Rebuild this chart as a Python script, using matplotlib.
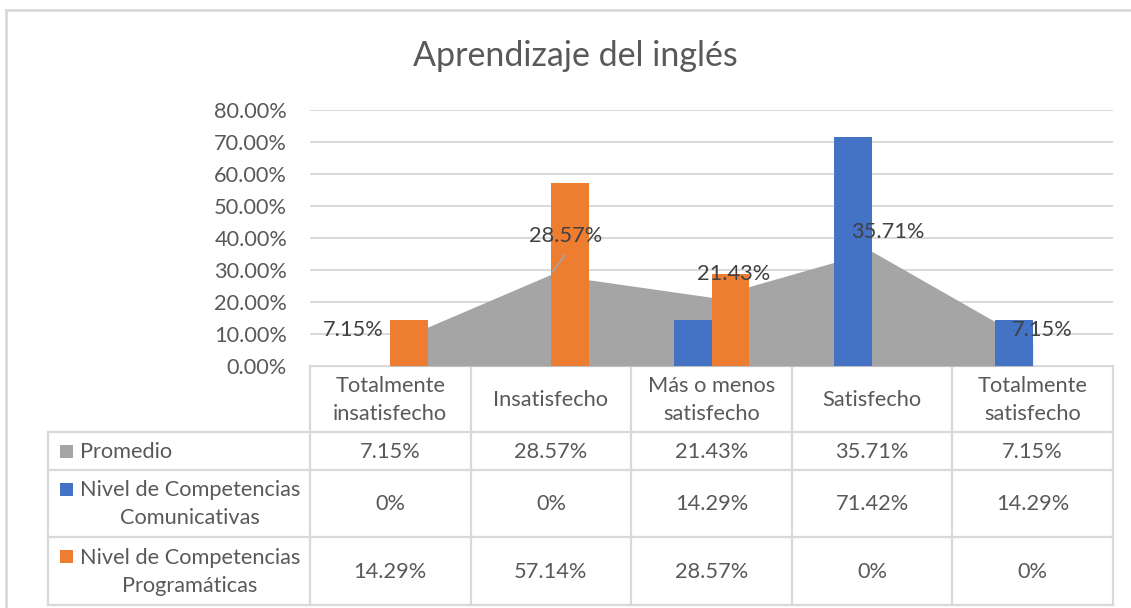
import matplotlib
matplotlib.use("Agg")
import matplotlib.pyplot as plt
import numpy as np

plt.rcParams['font.family'] = ['Lato', 'DejaVu Sans']

# data
categories = ["Totalmente\ninsatisfecho", "Insatisfecho", "Más o menos\nsatisfecho",
              "Satisfecho", "Totalmente\nsatisfecho"]
promedio = [7.15, 28.57, 21.43, 35.71, 7.15]
comunicativas = [0, 0, 14.29, 71.42, 14.29]
programaticas = [14.29, 57.14, 28.57, 0, 0]
series_names = ["Promedio", "Nivel de Competencias\nComunicativas",
                "Nivel de Competencias\nProgramáticas"]
table_text = [["7.15%", "28.57%", "21.43%", "35.71%", "7.15%"],
              ["0%", "0%", "14.29%", "71.42%", "14.29%"],
              ["14.29%", "57.14%", "28.57%", "0%", "0%"]]
yticks = [0, 10, 20, 30, 40, 50, 60, 70, 80]

GRAY = "#A5A5A5"
BLUE = "#4472C4"
ORANGE = "#ED7D31"
TXT = "#595959"
LINE = "#D9D9D9"
FS = 15.7

W, H = 1131, 608
fig = plt.figure(figsize=(W / 100, H / 100), dpi=100)

# layout in pixels
px_left, px_right = 310, 1113
px_top, px_bottom = 109.5, 366
ax = fig.add_axes([px_left / W, 1 - px_bottom / H,
                   (px_right - px_left) / W, (px_bottom - px_top) / H])

x = np.arange(len(categories))
bw = 0.236
ax.fill_between(x, promedio, 0, color=GRAY, lw=0, zorder=2)
ax.bar(x - bw / 2, comunicativas, bw, color=BLUE, zorder=3)
ax.bar(x + bw / 2, programaticas, bw, color=ORANGE, zorder=3)

ax.set_xlim(-0.5, len(categories) - 0.5)
ax.set_ylim(0, 80)
ax.set_yticks(yticks)
ax.set_yticklabels([f"{v:.2f}%" for v in yticks], color=TXT, fontsize=FS)
ax.set_xticks([])
ax.tick_params(axis='y', length=0, pad=16.5)
ax.yaxis.grid(True, color=LINE, lw=1.4, zorder=0)
ax.set_axisbelow(True)
for s in ax.spines.values():
    s.set_visible(False)

# data labels for Promedio
offsets = [(-37, 13), (15, 38), (22, 23), (16, 20), (10, 13)]
for i, v in enumerate(promedio):
    dx, dy = offsets[i]
    ax.annotate(f"{v:.2f}%", (x[i], v), xytext=(dx, dy), textcoords='offset pixels',
                ha='center', va='center', fontsize=FS, color="#404040", zorder=5)
# leader line for the 28.57% label
ax.annotate("", (x[1], promedio[1]), xytext=(16, 22), textcoords='offset pixels',
            arrowprops=dict(arrowstyle='-', color=GRAY, lw=1.2), zorder=5)

fig.text(575 / W, 1 - 56 / H, "Aprendizaje del inglés", ha='center', va='center',
         fontsize=24.5, color=TXT)

# overlay for data table and chart border (pixel coordinates)
ov = fig.add_axes([0, 0, 1, 1], zorder=-1)
ov.set_xlim(0, W)
ov.set_ylim(H, 0)
ov.axis('off')

n = len(categories)
col_edges = [px_left + (px_right - px_left) * i / n for i in range(n + 1)]
col_mid = [(col_edges[i] + col_edges[i + 1]) / 2 for i in range(n)]
tbl_left = 48
row_edges = [366, 432, 470, 537, 605]

# chart border
ov.plot([6, 6], [10, H], color=LINE, lw=2)
ov.plot([6, W], [10, 10], color=LINE, lw=2)

ov.plot([px_left, px_right], [row_edges[0]] * 2, color=LINE, lw=1.6)
for yy in row_edges[1:]:
    ov.plot([tbl_left, px_right], [yy, yy], color=LINE, lw=1.6)
for xx in col_edges:
    ov.plot([xx, xx], [row_edges[0], row_edges[-1]], color=LINE, lw=1.6)
ov.plot([tbl_left, tbl_left], [row_edges[1], row_edges[-1]], color=LINE, lw=1.6)

for i, c in enumerate(categories):
    ov.text(col_mid[i], (row_edges[0] + row_edges[1]) / 2 + 1, c, ha='center', va='center',
            multialignment='center', fontsize=FS, color=TXT, linespacing=1.5)

colors = [GRAY, BLUE, ORANGE]
for r in range(3):
    ymid = (row_edges[r + 1] + row_edges[r + 2]) / 2
    ov.add_patch(plt.Rectangle((60, ymid - 6 if r == 0 else row_edges[r + 1] + 13), 13, 13,
                               color=colors[r], lw=0))
    ov.text(80, ymid + 1, series_names[r], ha='left', va='center', multialignment='center',
            fontsize=FS, color=TXT, linespacing=1.5)
    for i in range(n):
        ov.text(col_mid[i], ymid + 1, table_text[r][i], ha='center', va='center',
                fontsize=FS, color=TXT)

fig.savefig("out.png", dpi=100, facecolor="white")
